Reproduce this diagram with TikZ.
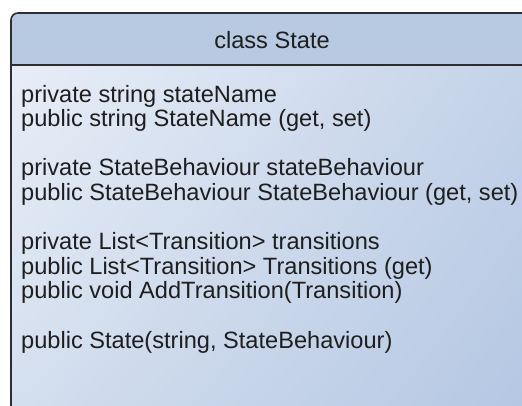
\documentclass[tikz,border=0pt]{standalone}
\usepackage{fontspec}
\setmainfont{Liberation Sans}
\usetikzlibrary{positioning,shadings}

\definecolor{headfill}{HTML}{B8C9E2}
\definecolor{bodyUL}{HTML}{E8EEF7}
\definecolor{bodyUR}{HTML}{C3D2E8}
\definecolor{bodyLL}{HTML}{D3DEEE}
\definecolor{bodyLR}{HTML}{B3C6E2}
\definecolor{edgegray}{HTML}{2E2E2E}
\definecolor{inkgray}{HTML}{1E1E1E}

\begin{document}
\begin{tikzpicture}[x=1pt,y=-1pt,
	member/.style={anchor=base west,inner sep=0pt,text=inkgray,font=\fontsize{23.6}{25}\selectfont},
	title/.style={member,anchor=base}]
		\useasboundingbox (0,0) rectangle (522,405);
		\clip (0,0) rectangle (522,405);
		% compartments
		\shade[upper left=bodyUL,upper right=bodyUR,lower left=bodyLL,lower right=bodyLR] (11,65) rectangle (540,420);
		\fill[headfill] (11,65) -- (11,20) arc (180:270:7) -- (540,13) -- (540,65) -- cycle;
		\draw[edgegray,line width=1.6pt] (540,13) -- (18,13) arc (270:180:7) -- (11,420);
		\draw[edgegray,line width=2pt] (11,65) -- (540,65);
		% texts
		\node[title] (name) at (272,48.5) {class State};
		\foreach \y/\txt [count=\i] in {102/{private string stateName},
			126.6/{public string StateName (get, set)},
			175.8/{private StateBehaviour stateBehaviour},
			200.4/{public StateBehaviour StateBehaviour (get, set)},
			249.6/{private List<Transition> transitions},
			274.2/{public List<Transition> Transitions (get)},
			298.8/{public void AddTransition(Transition)},
			348/{public State(string, StateBehaviour)}}
			\node[member] (m\i) at (21,\y) {\txt};
	\end{tikzpicture}
\end{document}
